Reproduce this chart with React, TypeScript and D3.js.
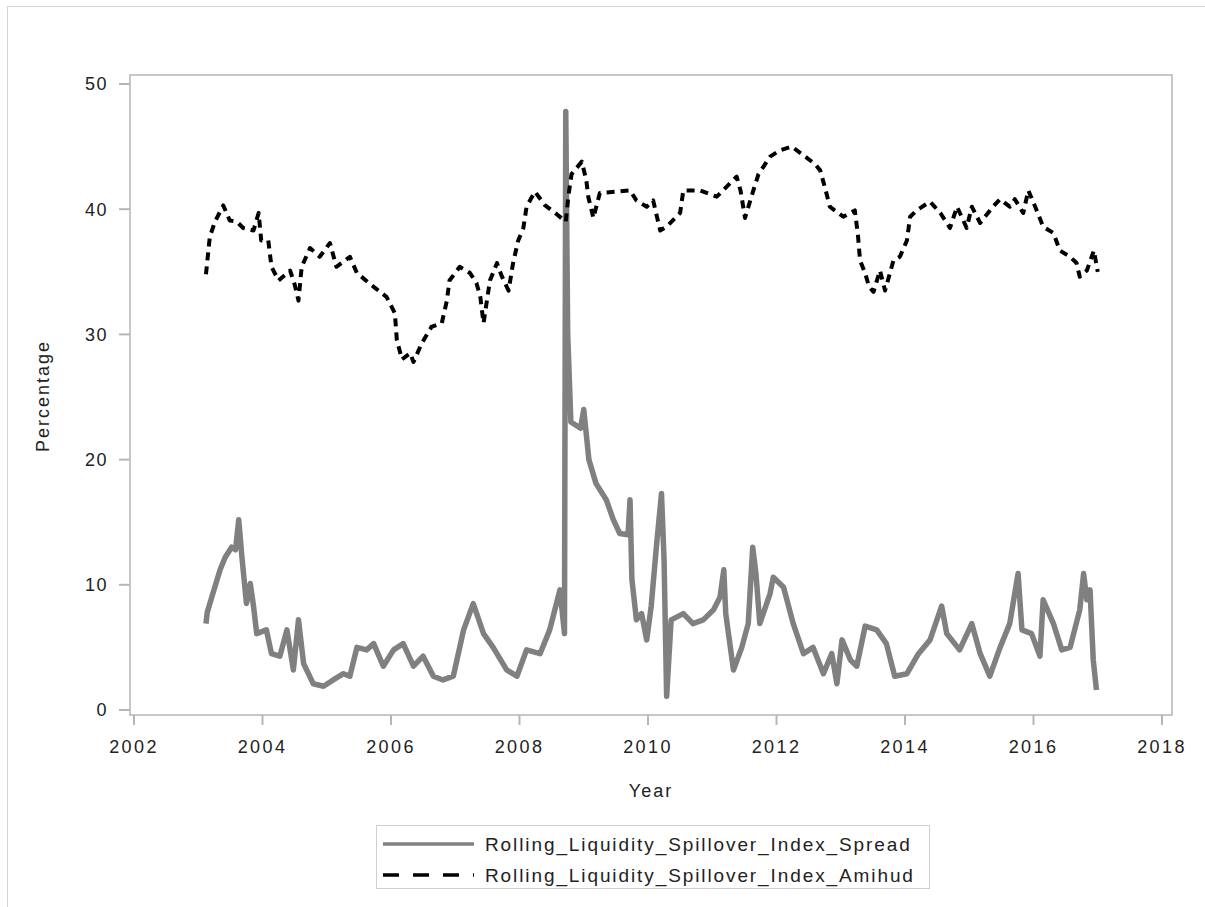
import React from "react";
import * as d3 from "d3";

const xTicks = [2002, 2004, 2006, 2008, 2010, 2012, 2014, 2016, 2018];
const yTicks = [0, 10, 20, 30, 40, 50];

const seriesNames = [
  "Rolling_Liquidity_Spillover_Index_Spread",
  "Rolling_Liquidity_Spillover_Index_Amihud",
];

const spreadYear = [
  2003.12, 2003.14, 2003.21, 2003.34, 2003.42, 2003.52, 2003.58, 2003.63, 2003.68, 2003.75,
  2003.81, 2003.86, 2003.91, 2004.06, 2004.14, 2004.27, 2004.38, 2004.48, 2004.56, 2004.64,
  2004.79, 2004.95, 2005.10, 2005.26, 2005.36, 2005.47, 2005.62, 2005.73, 2005.88, 2006.04,
  2006.19, 2006.35, 2006.50, 2006.66, 2006.81, 2006.97, 2007.13, 2007.28, 2007.44, 2007.59,
  2007.80, 2007.96, 2008.11, 2008.32, 2008.47, 2008.63, 2008.70, 2008.72, 2008.75, 2008.80,
  2008.95, 2009.00, 2009.08, 2009.19, 2009.35, 2009.46, 2009.56, 2009.69, 2009.72, 2009.75,
  2009.82, 2009.90, 2009.98, 2010.05, 2010.13, 2010.21, 2010.25, 2010.29, 2010.36, 2010.55,
  2010.70, 2010.86, 2011.02, 2011.12, 2011.18, 2011.21, 2011.33, 2011.46, 2011.56, 2011.63,
  2011.68, 2011.74, 2011.90, 2011.95, 2012.11, 2012.26, 2012.42, 2012.57, 2012.73, 2012.86,
  2012.94, 2013.02, 2013.15, 2013.25, 2013.38, 2013.56, 2013.71, 2013.84, 2014.03, 2014.21,
  2014.39, 2014.57, 2014.65, 2014.85, 2015.04, 2015.17, 2015.32, 2015.48, 2015.63, 2015.76,
  2015.82, 2015.97, 2016.10, 2016.15, 2016.31, 2016.44, 2016.57, 2016.72, 2016.78, 2016.83,
  2016.88, 2016.93, 2016.98,
];
const spreadValue = [
  6.9, 7.8, 9.0, 11.2, 12.2, 13.0, 12.8, 15.2, 12.2, 8.5,
  10.1, 8.3, 6.1, 6.4, 4.5, 4.3, 6.4, 3.2, 7.2, 3.7,
  2.1, 1.9, 2.4, 2.9, 2.7, 5.0, 4.8, 5.3, 3.5, 4.8,
  5.3, 3.5, 4.3, 2.7, 2.4, 2.7, 6.4, 8.5, 6.1, 5.0,
  3.2, 2.7, 4.8, 4.5, 6.4, 9.6, 6.1, 47.8, 30.0, 23.0,
  22.5, 24.0, 20.0, 18.1, 16.8, 15.2, 14.1, 14.0, 16.8, 10.4,
  7.2, 7.7, 5.6, 8.3, 13.0, 17.3, 12.0, 1.1, 7.2, 7.7,
  6.9, 7.2, 8.0, 9.0, 11.2, 7.7, 3.2, 5.0, 6.9, 13.0,
  10.9, 6.9, 9.3, 10.6, 9.8, 6.9, 4.5, 5.0, 2.9, 4.5,
  2.1, 5.6, 4.0, 3.5, 6.7, 6.4, 5.3, 2.7, 2.9, 4.5,
  5.6, 8.3, 6.1, 4.8, 6.9, 4.5, 2.7, 5.0, 6.9, 10.9,
  6.4, 6.1, 4.3, 8.8, 6.9, 4.8, 5.0, 8.0, 10.9, 8.8,
  9.6, 4.0, 1.6,
];

const amihudYear = [
  2003.12, 2003.18, 2003.26, 2003.39, 2003.49, 2003.60, 2003.70, 2003.86, 2003.94, 2003.98,
  2004.09, 2004.14, 2004.25, 2004.43, 2004.50, 2004.56, 2004.61, 2004.74, 2004.89, 2005.05,
  2005.15, 2005.36, 2005.47, 2005.73, 2005.93, 2006.06, 2006.09, 2006.17, 2006.30, 2006.35,
  2006.48, 2006.63, 2006.79, 2006.87, 2006.91, 2007.07, 2007.23, 2007.33, 2007.39, 2007.44,
  2007.54, 2007.65, 2007.72, 2007.83, 2007.90, 2007.98, 2008.06, 2008.11, 2008.24, 2008.40,
  2008.58, 2008.72, 2008.76, 2008.81, 2008.97, 2009.04, 2009.07, 2009.15, 2009.25, 2009.51,
  2009.72, 2009.82, 2009.98, 2010.08, 2010.19, 2010.29, 2010.50, 2010.55, 2010.81, 2011.07,
  2011.38, 2011.44, 2011.51, 2011.64, 2011.72, 2011.90, 2012.05, 2012.24, 2012.42, 2012.60,
  2012.68, 2012.75, 2012.83, 2013.04, 2013.22, 2013.27, 2013.30, 2013.38, 2013.44, 2013.51,
  2013.61, 2013.69, 2013.82, 2013.92, 2014.03, 2014.08, 2014.18, 2014.39, 2014.55, 2014.70,
  2014.81, 2014.96, 2015.04, 2015.17, 2015.37, 2015.48, 2015.63, 2015.71, 2015.84, 2015.92,
  2016.05, 2016.15, 2016.31, 2016.41, 2016.57, 2016.67, 2016.72, 2016.83, 2016.94, 2017.00,
];
const amihudValue = [
  34.8, 37.8, 39.0, 40.3, 39.1, 39.0, 38.5, 38.3, 39.7, 37.5,
  37.5, 35.4, 34.3, 35.1, 34.0, 32.7, 35.4, 36.9, 36.2, 37.3,
  35.4, 36.2, 34.9, 33.8, 33.0, 31.7, 29.6, 28.0, 28.5, 27.8,
  29.3, 30.6, 30.9, 32.7, 34.3, 35.4, 34.9, 34.1, 33.0, 30.9,
  34.3, 35.7, 34.7, 33.5, 35.7, 37.5, 38.5, 40.2, 41.4, 40.3,
  39.6, 39.0, 41.0, 42.8, 43.8, 42.3, 41.0, 39.3, 41.3, 41.4,
  41.5, 40.7, 40.2, 40.7, 38.3, 38.6, 39.7, 41.5, 41.5, 41.0,
  42.6, 41.5, 39.3, 41.5, 42.8, 44.2, 44.7, 45.0, 44.3, 43.6,
  43.1, 41.8, 40.2, 39.4, 39.9, 37.8, 35.9, 34.9, 33.8, 33.4,
  35.1, 33.5, 35.9, 36.2, 37.5, 39.4, 39.9, 40.6, 39.7, 38.5,
  40.2, 38.5, 40.2, 38.9, 40.2, 40.8, 40.2, 40.8, 39.7, 41.5,
  39.9, 38.6, 38.1, 36.7, 36.2, 35.7, 34.6, 35.1, 36.7, 35.0,
];

const W = 1205;
const H = 907;
const plot = { left: 130, right: 1172, top: 75, bottom: 715 };
const axisColor = "#b3b7bb";
const font = "'Liberation Sans', Arial, sans-serif";

export default function App() {
  const x = d3.scaleLinear().domain([2002, 2018]).range([134, 1162]);
  const y = d3.scaleLinear().domain([0, 50]).range([710, 84]);

  const spreadPts: [number, number][] = spreadYear.map((t, i) => [t, spreadValue[i]]);
  const amihudPts: [number, number][] = amihudYear.map((t, i) => [t, amihudValue[i]]);
  const line = d3
    .line<[number, number]>()
    .x((d) => x(d[0]))
    .y((d) => y(d[1]));

  return (
    <svg
      width={W}
      height={H}
      style={{ position: "absolute", left: 0, top: 0, background: "#fff" }}
      fontFamily={font}
    >
      <rect x={7.5} y={6.5} width={W + 10} height={H + 10} fill="#fff" stroke="#d4d4d4" strokeWidth={1} />
      {/* plot frame */}
      <rect
        x={plot.left}
        y={plot.top}
        width={plot.right - plot.left}
        height={plot.bottom - plot.top}
        fill="#fff"
        stroke={axisColor}
        strokeWidth={1.5}
      />
      {/* y ticks */}
      {yTicks.map((t) => (
        <g key={"y" + t}>
          <line x1={119} x2={plot.left} y1={y(t)} y2={y(t)} stroke={axisColor} strokeWidth={2} />
          <text
            x={108}
            y={y(t)}
            dy="0.36em"
            textAnchor="end"
            fontSize={18}
            letterSpacing={1.5}
            fill="#222"
          >
            {t}
          </text>
        </g>
      ))}
      {/* x ticks */}
      {xTicks.map((t) => (
        <g key={"x" + t}>
          <line x1={x(t)} x2={x(t)} y1={plot.bottom} y2={725} stroke={axisColor} strokeWidth={2} />
          <text
            x={x(t)}
            y={753}
            textAnchor="middle"
            fontSize={18}
            letterSpacing={2.4}
            fill="#222"
          >
            {t}
          </text>
        </g>
      ))}
      <text x={651} y={797} textAnchor="middle" fontSize={18} letterSpacing={2} fill="#222">
        Year
      </text>
      <text
        transform="translate(49,396) rotate(-90)"
        textAnchor="middle"
        fontSize={18}
        letterSpacing={2}
        fill="#222"
      >
        Percentage
      </text>

      {/* series */}
      <path d={line(spreadPts) || ""} fill="none" stroke="#808080" strokeWidth={5.5} strokeLinejoin="round" />
      <path
        d={line(amihudPts) || ""}
        fill="none"
        stroke="#000"
        strokeWidth={4}
        strokeDasharray="8,6"
        strokeLinejoin="round"
      />

      {/* legend */}
      <rect x={376.5} y={825.5} width={553} height={63} fill="#fff" stroke="#cfcfcf" strokeWidth={1} />
      <line x1={383} x2={474} y1={844} y2={844} stroke="#808080" strokeWidth={3.5} />
      <line x1={383} x2={474} y1={875} y2={875} stroke="#000" strokeWidth={3.5} strokeDasharray="16,14" />
      <text x={485} y={851} fontSize={19} letterSpacing={1.9} fill="#222">
        {seriesNames[0]}
      </text>
      <text x={485} y={882} fontSize={19} letterSpacing={1.9} fill="#222">
        {seriesNames[1]}
      </text>
    </svg>
  );
}
